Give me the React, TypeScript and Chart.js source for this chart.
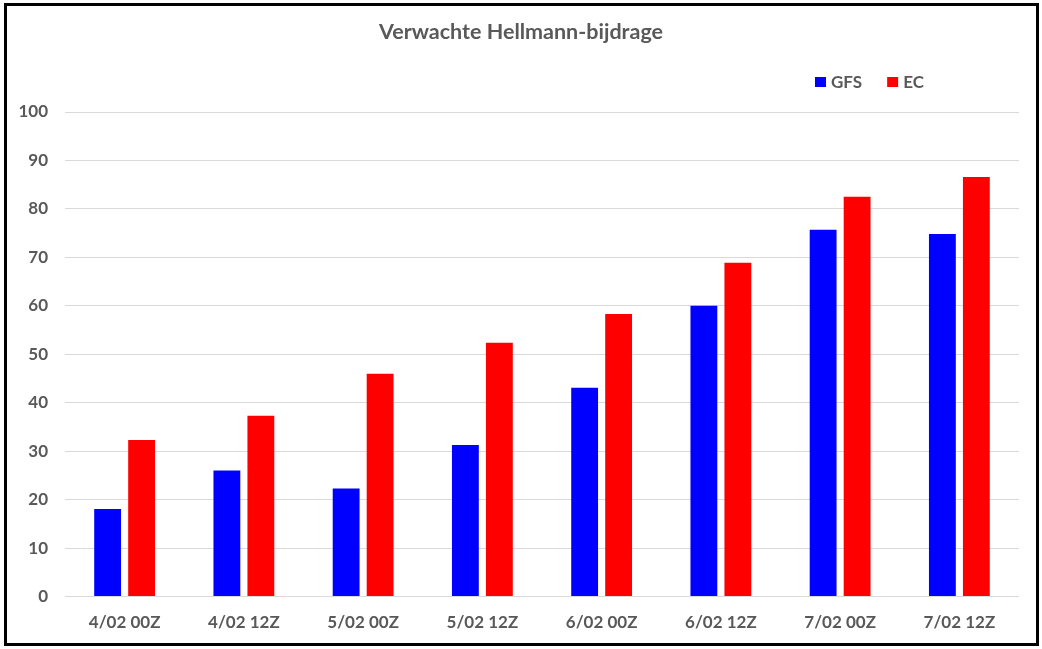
import { useEffect, useRef } from 'react';
import { Chart, registerables } from 'chart.js';

Chart.register(...registerables);

const categories = ['4/02 00Z', '4/02 12Z', '5/02 00Z', '5/02 12Z', '6/02 00Z', '6/02 12Z', '7/02 00Z', '7/02 12Z'];
const gfsValues = [18.1, 26.0, 22.3, 31.3, 43.1, 60.0, 75.7, 74.8];
const ecValues = [32.3, 37.3, 46.0, 52.4, 58.3, 68.9, 82.5, 86.6];
const chartTitle = 'Verwachte Hellmann-bijdrage';

const FONT = 'Lato, "Open Sans", sans-serif';
const GRAY = '#595959';

// title centred on the whole picture and legend top right, like the Excel original
const headerPlugin = {
  id: 'header',
  afterDraw(chart: Chart) {
    const ctx = chart.ctx;
    ctx.save();
    ctx.fillStyle = GRAY;
    ctx.textBaseline = 'middle';
    ctx.textAlign = 'center';
    ctx.font = `bold 21.5px ${FONT}`;
    ctx.fillText(chartTitle, chart.width / 2, 32);

    ctx.textAlign = 'left';
    ctx.font = `bold 17px ${FONT}`;
    let x = 815;
    const y = 82;
    chart.data.datasets.forEach((ds) => {
      ctx.fillStyle = ds.backgroundColor as string;
      ctx.fillRect(x, y - 5, 11, 10);
      x += 16;
      ctx.fillStyle = GRAY;
      const label = ds.label || '';
      ctx.fillText(label, x, y + 1);
      x += ctx.measureText(label).width + 25;
    });
    ctx.restore();
  },
};

const HellmannChart = () => {
  const canvasRef = useRef<HTMLCanvasElement>(null);
  const chartRef = useRef<Chart | null>(null);

  useEffect(() => {
    if (!canvasRef.current) return;
    if (chartRef.current) chartRef.current.destroy();

    chartRef.current = new Chart(canvasRef.current, {
      type: 'bar',
      data: {
        labels: categories,
        datasets: [
          { label: 'GFS', data: gfsValues, backgroundColor: '#0000FF' },
          { label: 'EC', data: ecValues, backgroundColor: '#FF0000' },
        ],
      },
      options: {
        responsive: true,
        maintainAspectRatio: false,
        animation: false,
        datasets: {
          bar: {
            categoryPercentage: 0.57,
            barPercentage: 0.79,
          },
        },
        layout: {
          padding: { top: 112, left: 8, right: 23, bottom: 0 },
        },
        plugins: {
          legend: { display: false },
          tooltip: { enabled: false },
          title: { display: false },
        },
        scales: {
          x: {
            grid: { display: false, drawTicks: false },
            border: { display: false },
            ticks: {
              color: GRAY,
              padding: 16,
              font: { size: 17, weight: 'bold', family: FONT },
            },
          },
          y: {
            min: 0,
            max: 100,
            afterFit: (scale) => {
              scale.width = 57;
            },
            grid: { color: '#D9D9D9', drawTicks: false },
            border: { display: false },
            ticks: {
              stepSize: 10,
              color: GRAY,
              padding: 17,
              font: { size: 17, weight: 'bold', family: FONT },
            },
          },
        },
      },
      plugins: [headerPlugin],
    });

    return () => {
      if (chartRef.current) {
        chartRef.current.destroy();
        chartRef.current = null;
      }
    };
  }, []);

  return (
    <div style={{ position: 'fixed', left: 0, top: 0, width: 1042, height: 649, background: '#fff' }}>
      <canvas ref={canvasRef} />
      <div
        style={{
          position: 'absolute',
          left: 4,
          top: 3,
          width: 1035,
          height: 643,
          boxSizing: 'border-box',
          border: '3px solid #000',
          pointerEvents: 'none',
        }}
      />
    </div>
  );
};

export default function App() {
  return <HellmannChart />;
}
